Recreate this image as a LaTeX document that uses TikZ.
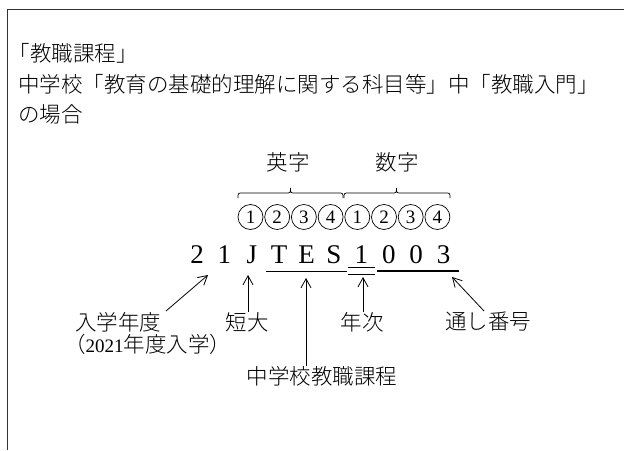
\documentclass[tikz,border=0pt]{standalone}
\usepackage{fontspec}
\setmainfont{Liberation Serif}
\newfontfamily\jp{Noto Sans CJK JP Light}
\usetikzlibrary{arrows.meta}
\begin{document}
\begin{tikzpicture}[x=1pt,y=-1pt,
  jt/.style={font=\jp\fontsize{21.5}{21.5}\selectfont, inner sep=0pt},
  codech/.style={font=\fontsize{27}{27}\selectfont, inner sep=0pt, anchor=base},
  circ/.style={circle, draw, line width=0.7pt, minimum size=25pt, inner sep=0pt, font=\fontsize{19}{19}\selectfont},
  frameline/.style={line width=1.4pt, draw=black!80},
  ul/.style={line width=0.8pt},
  ulthick/.style={line width=2pt},
  arr/.style={line width=0.8pt, -{Straight Barb[length=9pt,width=10pt]}},
  bracepath/.style={line width=0.7pt}]
\useasboundingbox (0,0) rectangle (624,450);
\fill[white] (0,0) rectangle (624,450);
% frame
\draw[frameline] (7.5,450) -- (7.5,9.5) -- (624,9.5);
% title
\node[jt, anchor=west] (t1) at (8.5,53) {「教職課程」};
\node[jt, anchor=west] (t2) at (18,84) {中学校「教育の基礎的理解に関する科目等」中「教職入門」};
\node[jt, anchor=west] (t3) at (18,114) {の場合};
% headings
\node[jt] (eiji) at (288,162) {英字};
\node[jt] (suji) at (397,162) {数字};
% braces
\draw[bracepath] (238,198) .. controls (238,193) .. (243,193) -- (285.5,193) .. controls (290.5,193) .. (290.5,188)
  .. controls (290.5,193) .. (295.5,193) -- (338,193) .. controls (343,193) .. (343,198);
\draw[bracepath] (344,198) .. controls (344,193) .. (349,193) -- (391.5,193) .. controls (396.5,193) .. (396.5,188)
  .. controls (396.5,193) .. (401.5,193) -- (445,193) .. controls (450,193) .. (450,198);
% circled numbers
\foreach \i/\d in {0/1,1/2,2/3,3/4,4/1,5/2,6/3,7/4}
  \node[circ] (c\i) at (250.5+26.7*\i,217) {\d};
% code
\foreach \i/\c in {0/2,1/1,2/J,3/T,4/E,5/S,6/1,7/0,8/0,9/3}
  \node[codech] (k\i) at (197+27.4*\i,263) {\c};
% underlines
\draw[ul] (266,271) -- (347,271);
\draw[ul] (348,267.5) -- (375,267.5);
\draw[ul] (348,274) -- (375,274);
\draw[ulthick] (377,271) -- (459,271);
% labels
\node[jt, anchor=west] (l1) at (75,322) {入学年度};
\node[jt, anchor=west] (l1b) at (64,344) {（{\rmfamily\fontsize{19}{19}\selectfont 2021}年度入学）};
\node[jt] (l2) at (247,322) {短大};
\node[jt] (l3) at (322,376) {中学校教職課程};
\node[jt] (l4) at (362,322) {年次};
\node[jt] (l5) at (488,322) {通し番号};
% arrow ends
\coordinate (a1s) at (166,311); \coordinate (a1e) at (208,275);
\coordinate (a2s) at (248,312); \coordinate (a2e) at (248,275);
\coordinate (a3s) at (306,366); \coordinate (a3e) at (306,278);
\coordinate (a4s) at (363,312); \coordinate (a4e) at (363,277);
\coordinate (a5s) at (484,311); \coordinate (a5e) at (452,277);
\draw[arr] (a1s) -- (a1e);
\draw[arr] (a2s) -- (a2e);
\draw[arr] (a3s) -- (a3e);
\draw[arr] (a4s) -- (a4e);
\draw[arr] (a5s) -- (a5e);
\end{tikzpicture}
\end{document}
